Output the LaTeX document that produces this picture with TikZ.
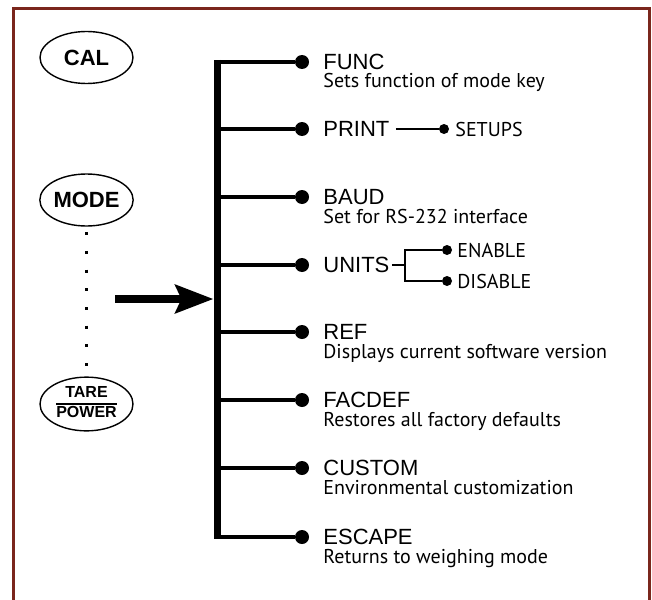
\documentclass[tikz,border=0pt]{standalone}
\usepackage{fontspec}
\setmainfont{Liberation Sans}
\newfontfamily\descfont{PT Sans}
\usetikzlibrary{shapes.geometric,arrows.meta}
\definecolor{C0}{RGB}{122,38,28}

\begin{document}
\begin{tikzpicture}[x=0.5pt,y=-0.5pt,
                key/.style={draw,ellipse,line width=0.7pt,minimum width=46.5pt,minimum height=26pt,inner sep=0pt,font=\bfseries\fontsize{11}{13}\selectfont},
                bigdot/.style={circle,fill,inner sep=0pt,minimum size=7pt},
                smalldot/.style={circle,fill,inner sep=0pt,minimum size=5pt},
                branch/.style={line width=2pt},
                sub/.style={line width=1.3pt},
                item/.style={anchor=west,inner sep=0pt,font=\fontsize{11}{13}\selectfont},
                desc/.style={anchor=base west,inner sep=0pt,font=\descfont\fontsize{10}{12}\selectfont},
                opt/.style={anchor=west,inner sep=0pt,font=\descfont\fontsize{10}{12}\selectfont}]
                \useasboundingbox (0,0) rectangle (652,599);
                \draw[C0,line width=1.5pt] (13.5,600) -- (13.5,8.5) -- (649.5,8.5) -- (649.5,600);

                \node[key] (cal) at (86.5,57.5) {CAL};
                \node[key] (mode) at (86.5,200) {MODE};
                \node[key,font=\bfseries\fontsize{8}{9}\selectfont] (tare) at (86.5,404)
                {\setlength{\arrayrulewidth}{1pt}\begin{tabular}{@{}c@{}}TARE\\\hline POWER\end{tabular}};
                \draw[line width=1.5pt,dash pattern=on 1.5pt off 7.85pt,dash phase=6.6pt] (mode) -- (tare);

                \coordinate (bar top) at (217,60);
                \coordinate (bar bottom) at (217,539);
                \draw[line width=3.5pt] (bar top) -- (bar bottom);
                \coordinate (arrow tail) at (115,299);
                \draw[line width=4pt,shorten >=1.75pt,-{Stealth[length=19pt,width=14pt,inset=3pt]}] (arrow tail) -- (arrow tail -| bar top);

                \node[bigdot] (func dot) at (302,62) {};
                \draw[branch] (func dot) -- (func dot -| bar top);
                \node[item] (func) at (323,62) {FUNC};
                \node[desc] (func desc) at (323,88) {Sets function of mode key};

                \node[bigdot] (print dot) at (302,129) {};
                \draw[branch] (print dot) -- (print dot -| bar top);
                \node[item] (print) at (323,129) {PRINT};
                \node[smalldot] (setups dot) at (444,129) {};
                \draw[sub,shorten <=3pt] (print.east) -- (setups dot);
                \node[opt] (setups) at (455,129) {SETUPS};

                \node[bigdot] (baud dot) at (302,197) {};
                \draw[branch] (baud dot) -- (baud dot -| bar top);
                \node[item] (baud) at (323,197) {BAUD};
                \node[desc] (baud desc) at (323,223) {Set for RS-232 interface};

                \node[bigdot] (units dot) at (302,265) {};
                \draw[branch] (units dot) -- (units dot -| bar top);
                \node[item] (units) at (323,265) {UNITS};
                \coordinate (fork) at (405,265);
                \node[smalldot] (enable dot) at (447,250) {};
                \node[smalldot] (disable dot) at (447,281) {};
                \draw[sub,shorten <=1pt] (units.east) -- (fork);
                \draw[sub] (enable dot) -| (fork);
                \draw[sub] (disable dot) -| (fork);
                \node[opt] (enable) at (457,250) {ENABLE};
                \node[opt] (disable) at (457,281) {DISABLE};

                \node[bigdot] (ref dot) at (302,332) {};
                \draw[branch] (ref dot) -- (ref dot -| bar top);
                \node[item] (ref) at (323,332) {REF};
                \node[desc] (ref desc) at (323,358) {Displays current software version};

                \node[bigdot] (facdef dot) at (302,400) {};
                \draw[branch] (facdef dot) -- (facdef dot -| bar top);
                \node[item] (facdef) at (323,400) {FACDEF};
                \node[desc] (facdef desc) at (323,426) {Restores all factory defaults};

                \node[bigdot] (custom dot) at (302,468) {};
                \draw[branch] (custom dot) -- (custom dot -| bar top);
                \node[item] (custom) at (323,468) {CUSTOM};
                \node[desc] (custom desc) at (323,494) {Environmental customization};

                \node[bigdot] (escape dot) at (302,537) {};
                \draw[branch] (escape dot) -- (escape dot -| bar top);
                \node[item] (escape) at (323,537) {ESCAPE};
                \node[desc] (escape desc) at (323,563) {Returns to weighing mode};
            \end{tikzpicture}
\end{document}
